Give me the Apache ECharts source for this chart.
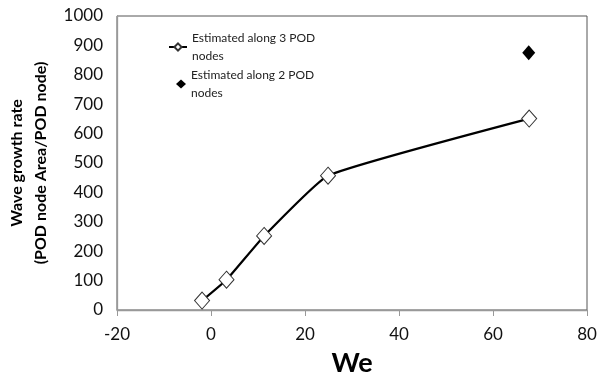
<!DOCTYPE html>
<html>
<head>
<meta charset="utf-8">
<script src="https://cdn.jsdelivr.net/npm/echarts@6/dist/echarts.min.js"></script>
<style>html,body{margin:0;padding:0;background:#fff}#c{width:597px;height:381px}</style>
</head>
<body>
<div id="c"></div>
<script>
const xTicks = [-20, 0, 20, 40, 60, 80];
const series3Name = 'Estimated along 3 POD\nnodes';
const series2Name = 'Estimated along 2 POD\nnodes';
const we3 = [-1.9, 3.3, 11.3, 24.9, 67.7];
const rate3 = [32, 103, 252, 457, 651];
const we2 = [67.6];
const rate2 = [875];

const chart = echarts.init(document.getElementById('c'));
const font = 'Lato, "Open Sans", sans-serif';
const legendText = { fontFamily: font, fontSize: 12, color: '#222', lineHeight: 18 };
chart.setOption({
  animation: false,
  backgroundColor: '#fff',
  grid: { left: 117, right: 10, top: 16, bottom: 71, show: true, borderColor: '#555', borderWidth: 1,
          containLabel: false, outerBoundsMode: 'none' },
  legend: [
    {
      left: 163, top: 24, itemWidth: 18, itemHeight: 9,
      textStyle: legendText, data: [series3Name]
    },
    {
      left: 171, top: 61, itemWidth: 10, itemHeight: 9,
      textStyle: legendText, data: [series2Name]
    }
  ],
  xAxis: {
    type: 'value', min: xTicks[0], max: xTicks[xTicks.length - 1], interval: 20,
    name: 'We', nameLocation: 'middle', nameGap: 40,
    nameTextStyle: { fontFamily: font, fontSize: 27, fontWeight: 'bold', color: '#000' },
    axisLine: { show: true, onZero: false, lineStyle: { color: '#999', width: 1.3 } },
    axisTick: { show: true, length: 6, lineStyle: { color: '#999' } },
    axisLabel: { fontFamily: font, fontSize: 17, color: '#111', margin: 16 },
    splitLine: { show: false }
  },
  yAxis: {
    type: 'value', min: 0, max: 1000, interval: 100,
    name: 'Wave growth rate\n(POD node Area/POD node)', nameLocation: 'middle', nameGap: 63,
    nameTextStyle: { fontFamily: font, fontSize: 16, fontWeight: 'bold', color: '#000', lineHeight: 24 },
    axisLine: { show: true, onZero: false, lineStyle: { color: '#999', width: 1.3 } },
    axisTick: { show: false },
    axisLabel: { fontFamily: font, fontSize: 17, color: '#111', margin: 14, formatter: v => String(v) },
    splitLine: { show: false }
  },
  series: [
    {
      name: series3Name, type: 'line', smooth: 0.12,
      data: we3.map((x, i) => [x, rate3[i]]),
      symbol: 'diamond', symbolSize: [15, 17],
      lineStyle: { color: '#000', width: 2.2 },
      itemStyle: { color: '#fff', borderColor: '#333', borderWidth: 1 },
      z: 3
    },
    {
      name: series2Name, type: 'scatter',
      data: we2.map((x, i) => [x, rate2[i]]),
      symbol: 'diamond', symbolSize: [13, 15],
      itemStyle: { color: '#000', opacity: 1 }
    }
  ]
});
</script>
</body>
</html>
